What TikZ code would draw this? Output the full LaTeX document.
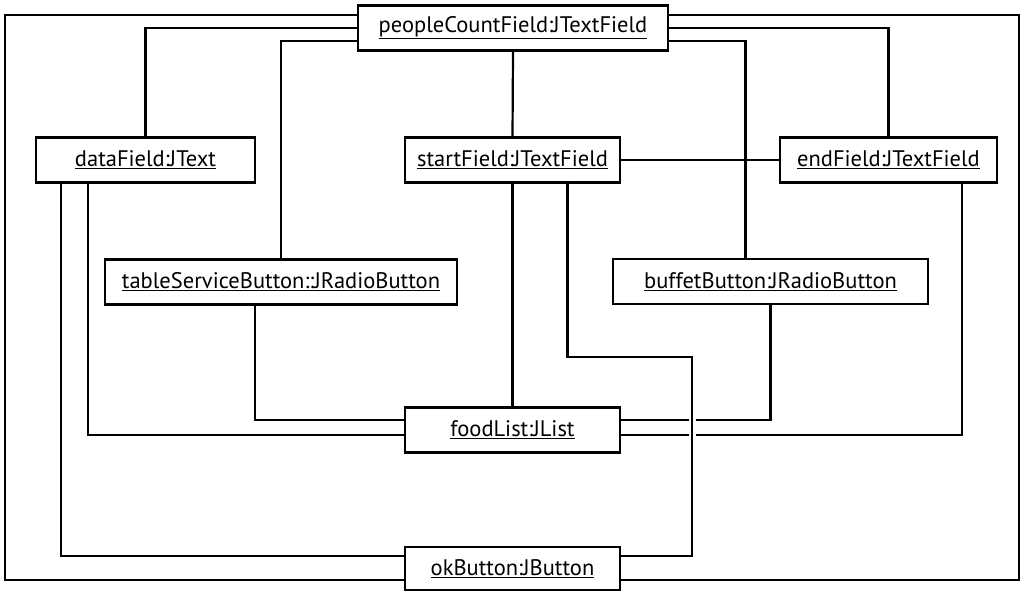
\documentclass[tikz,border=0pt]{standalone}
\usepackage{fontspec}
\setmainfont{PT Sans}
\usetikzlibrary{positioning}

\tikzset{
    obj/.style = {draw, line width=2.4pt, inner sep=0pt, minimum height=45pt,
                  font=\fontsize{22.5}{24}\selectfont},
    link/.style = {line width=2.2pt},
}
\newcommand{\objname}[1]{\underline{#1}}

\begin{document}
\begin{tikzpicture}[x=1pt, y=-1pt]
    \def\boxW{215pt}

    \useasboundingbox (0,0) rectangle (1022,593);

    \node[obj, minimum width=310pt] (pcf) at (513,28) {\objname{peopleCountField:JTextField}};
    \node[obj, minimum width=219pt] (dataf) at (145.5,160) {\objname{dataField:JText}};
    \node[obj, minimum width=\boxW] (startf) at (512.5,160) {\objname{startField:JTextField}};
    \node[obj, minimum width=217pt] (endf) at (888.5,160) {\objname{endField:JTextField}};
    \node[obj, minimum width=352pt] (tsb) at (281,282) {\objname{tableServiceButton::JRadioButton}};
    \node[obj, minimum width=315pt] (bb) at (770.5,281.5) {\objname{buffetButton:JRadioButton}};
    \node[obj, minimum width=\boxW] (food) at (512.5,430) {\objname{foodList:JList}};
    \node[obj, minimum width=\boxW, minimum height=43pt] (ok) at (512.5,568.5) {\objname{okButton:JButton}};

    \draw[link] ([yshift=13pt]pcf.west) -- ++(-352,0) |- ([yshift=-11.5pt]ok.west);
    \draw[link] ([yshift=13pt]pcf.east) -- ++(350,0) |- ([yshift=-11.5pt]ok.east);
    \draw[link] (pcf.west) -| (dataf.north);
    \draw[link] ([yshift=-13pt]pcf.west) -| (tsb.north);
    \draw[link] (pcf.east) -| (endf.north);
    \draw[link] ([yshift=-13pt]pcf.east) -| ([xshift=-25pt]bb.north);
    \draw[link] (pcf.south) -- (startf.north);
    \draw[link] (startf.east) -- (endf.west);
    \draw[link] (startf.south) -- (food.north);

    \draw[link] ([xshift=-57.5pt]dataf.south) |- ([yshift=-5pt]food.west);
    \draw[link] ([xshift=-84.5pt]dataf.south) |- ([yshift=12.5pt]ok.west);
    \draw[link] ([xshift=-26pt]tsb.south) |- ([yshift=10pt]food.west);
    \draw[link] (bb.south) |- ([yshift=10pt]food.east);
    \draw[link] ([xshift=73.5pt]endf.south) |- ([yshift=-5pt]food.east);

    \coordinate (jog) at (692,357);
    \draw[link, preaction={draw=white, line width=7pt}]
        ([xshift=55pt]startf.south) |- (jog) |- ([yshift=12.5pt]ok.east);
\end{tikzpicture}
\end{document}
